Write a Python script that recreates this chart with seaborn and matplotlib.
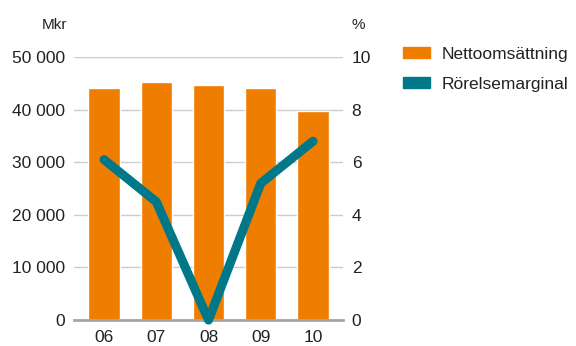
import numpy as np
import pandas as pd
import seaborn as sns
import matplotlib.pyplot as plt
from matplotlib.patches import Patch
from matplotlib.ticker import FuncFormatter

years = ["06", "07", "08", "09", "10"]
nettoomsattning = [44100, 45300, 44600, 44100, 39800]
rorelsemarginal = [6.1, 4.5, 0.0, 5.2, 6.8]

orange = "#EF7D00"
teal = "#00788A"

sns.set_style("white")
plt.rcParams["font.family"] = ["Liberation Sans", "DejaVu Sans"]

df = pd.DataFrame({"year": years, "sales": nettoomsattning, "margin": rorelsemarginal})

fig, ax = plt.subplots(figsize=(5.76, 3.46), dpi=100)
fig.subplots_adjust(left=0.128, right=0.596, bottom=0.075, top=0.835)

sns.barplot(data=df, x="year", y="sales", color=orange, width=0.6,
            saturation=1, ax=ax, zorder=2)
ax.set_ylim(0, 50000)
ax.set_xlim(-0.58, 4.58)
ax.set_yticks(np.arange(0, 50001, 10000))
ax.yaxis.set_major_formatter(FuncFormatter(lambda v, p: f"{int(v):,}".replace(",", " ")))
ax.grid(axis="y", color="#cccccc", linewidth=1, zorder=0)
ax.set_axisbelow(True)
ax.set_xlabel("")
ax.set_ylabel("")

ax2 = ax.twinx()
sns.lineplot(x=np.arange(len(years)), y=df["margin"], color=teal, linewidth=6.5,
             solid_capstyle="round", solid_joinstyle="round", ax=ax2, clip_on=False)
ax2.set_ylim(0, 10)
ax2.set_yticks(np.arange(0, 11, 2))
ax2.set_ylabel("")

for a in (ax, ax2):
    for s in a.spines.values():
        s.set_visible(False)
    a.tick_params(length=0, labelsize=12.5, colors="#222222")
ax.spines["bottom"].set_visible(True)
ax.spines["bottom"].set_color("#ada59d")
ax.spines["bottom"].set_linewidth(2)
ax.spines["bottom"].set_zorder(3)
ax.tick_params(axis="y", pad=6)
ax.tick_params(axis="x", pad=7)
ax2.tick_params(axis="y", pad=6)

fig.text(67 / 576, 1 - 25 / 346, "Mkr", ha="right", va="center", fontsize=11, color="#222222")
fig.text(352 / 576, 1 - 25 / 346, "%", ha="left", va="center", fontsize=11, color="#222222")

handles = [Patch(color=orange, label="Nettoomsättning"),
           Patch(color=teal, label="Rörelsemarginal")]
fig.legend(handles=handles, loc="upper left", bbox_to_anchor=(0.672, 0.91),
           frameon=False, fontsize=12.5, handlelength=1.55, handleheight=0.65,
           handletextpad=0.7, labelspacing=0.85, labelcolor="#222222")

plt.savefig("out.png", dpi=100)
